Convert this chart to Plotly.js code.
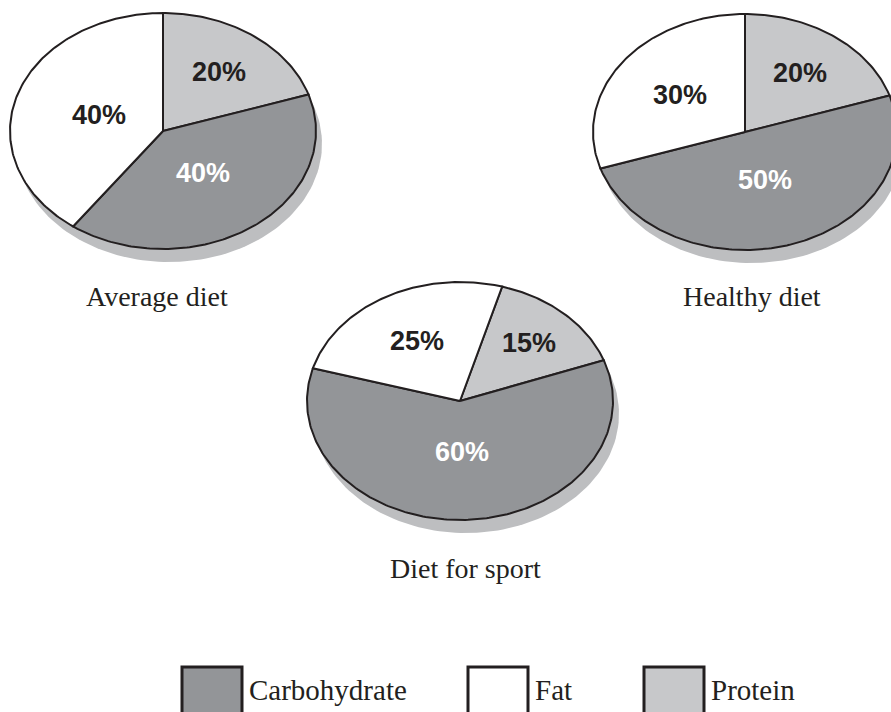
<!DOCTYPE html>
<html>
<head>
<meta charset="utf-8">
<script src="https://cdn.plot.ly/plotly-3.0.1.min.js"></script>
<style>html,body{margin:0;padding:0;background:#fff;}#chart{width:891px;height:712px;}</style>
</head>
<body>
<div id="chart"></div>
<script>
// ---- data ----
const diets = ["Average diet", "Healthy diet", "Diet for sport"];
const categories = ["Carbohydrate", "Fat", "Protein"];
const carbohydrate = [40, 50, 60];
const fat = [40, 30, 25];
const protein = [20, 20, 15];

// ---- style / layout ----
const colors = {Carbohydrate: "#939598", Fat: "#ffffff", Protein: "#c7c8ca"};
const labelColors = {Carbohydrate: "#ffffff", Fat: "#231f20", Protein: "#231f20"};
const shadowColor = "#bdbec0";
const ink = "#231f20";
const pies = [
  {cx: 163, cy: 131, rx: 153, ry: 118, start: 0,  title: {x: 157, y: 296}},
  {cx: 745, cy: 132, rx: 152, ry: 118, start: 0,  title: {x: 752, y: 296}},
  {cx: 460, cy: 401, rx: 153, ry: 119, start: 16, title: {x: 465, y: 568}}
];
const shadowOffset = {dx: 6, dy: 13};
// slice order clockwise from start angle
const sliceOrder = ["Protein", "Carbohydrate", "Fat"];
const seriesByCat = {Carbohydrate: carbohydrate, Fat: fat, Protein: protein};

const traces = [];
const annotations = [];
const shapes = [];

function pt(p, thetaDeg, f) {
  const t = thetaDeg * Math.PI / 180;
  return [p.cx + f * p.rx * Math.sin(t), p.cy - f * p.ry * Math.cos(t)];
}

pies.forEach((p, i) => {
  // shadow
  const sx = [], sy = [];
  for (let a = 0; a <= 360; a += 2) {
    const q = pt(p, a, 1);
    sx.push(q[0] + shadowOffset.dx); sy.push(q[1] + shadowOffset.dy);
  }
  traces.push({x: sx, y: sy, mode: "lines", fill: "toself", fillcolor: shadowColor,
    line: {width: 0, color: shadowColor}, hoverinfo: "skip", showlegend: false});

  const total = sliceOrder.reduce((s, c) => s + seriesByCat[c][i], 0);
  let acc = p.start;
  sliceOrder.forEach(cat => {
    const v = seriesByCat[cat][i];
    const span = v / total * 360;
    const a0 = acc, a1 = acc + span;
    const xs = [p.cx], ys = [p.cy];
    const n = Math.max(2, Math.ceil(span));
    for (let k = 0; k <= n; k++) {
      const q = pt(p, a0 + span * k / n, 1);
      xs.push(q[0]); ys.push(q[1]);
    }
    xs.push(p.cx); ys.push(p.cy);
    traces.push({x: xs, y: ys, mode: "lines", fill: "toself", fillcolor: colors[cat],
      line: {width: 2, color: ink, shape: "linear"}, name: cat, hoverinfo: "name",
      showlegend: false});
    const frac = v / total;
    const f = Math.max(0.43, 0.8 - 0.9 * frac);
    const lp = pt(p, (a0 + a1) / 2, f);
    annotations.push({x: lp[0], y: lp[1], xref: "x", yref: "y", showarrow: false,
      text: v + "%", font: {family: "Liberation Sans, Arial, sans-serif", size: 27,
      weight: "bold", color: labelColors[cat]}, xanchor: "center", yanchor: "middle"});
    acc = a1;
  });

  annotations.push({x: p.title.x, y: p.title.y, xref: "x", yref: "y", showarrow: false,
    text: diets[i], font: {family: "Liberation Serif, Times New Roman, serif", size: 28, color: ink},
    xanchor: "center", yanchor: "middle"});
});

// legend
const legendX = [182, 468, 644];
categories.forEach((cat, j) => {
  shapes.push({type: "rect", xref: "x", yref: "y", x0: legendX[j], x1: legendX[j] + 60,
    y0: 667, y1: 740, fillcolor: colors[cat], line: {color: ink, width: 3}});
  annotations.push({x: legendX[j] + 65, y: 690, xref: "x", yref: "y", showarrow: false,
    text: cat, font: {family: "Liberation Serif, Times New Roman, serif", size: 29, color: ink},
    xanchor: "left", yanchor: "middle"});
});

const layout = {
  width: 891, height: 712,
  margin: {l: 0, r: 0, t: 0, b: 0},
  paper_bgcolor: "#ffffff", plot_bgcolor: "#ffffff",
  xaxis: {range: [0, 891], visible: false, fixedrange: true},
  yaxis: {range: [712, 0], visible: false, fixedrange: true},
  showlegend: false,
  annotations: annotations,
  shapes: shapes
};

Plotly.newPlot("chart", traces, layout, {staticPlot: true});
</script>
</body>
</html>
